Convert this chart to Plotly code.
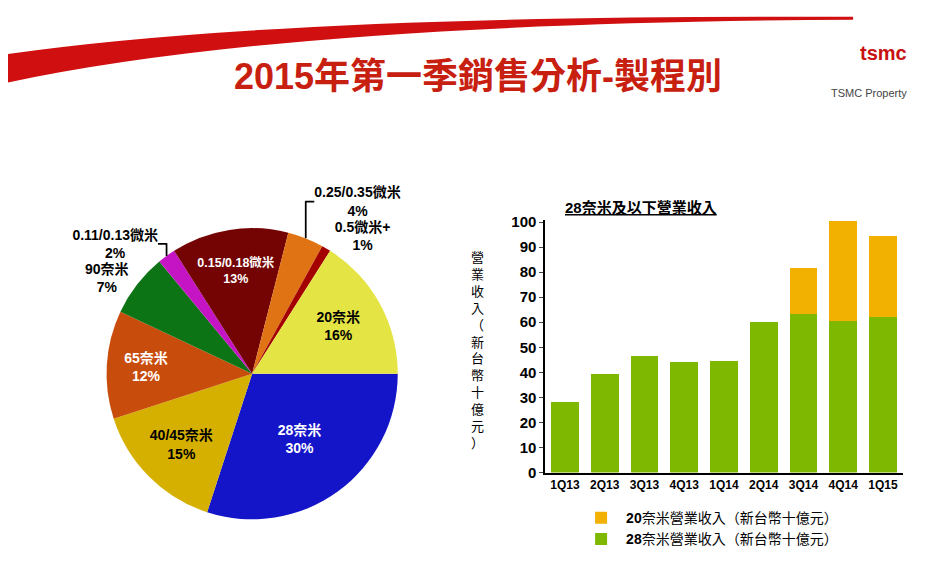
import plotly.graph_objects as go

# pie: process-node revenue share, clockwise from 3 o'clock
pie_labels = ["28奈米", "40/45奈米", "65奈米", "90奈米", "0.11/0.13微米",
              "0.15/0.18微米", "0.25/0.35微米", "0.5微米+", "20奈米"]
pie_values = [30, 15, 12, 7, 2, 13, 4, 1, 16]
pie_colors = ["#1414c8", "#d6b000", "#c84c0c", "#0c7414", "#c414c4",
              "#740404", "#e07414", "#a40000", "#e4e444"]
pie_textcolor = ["white", "black", "white", "black", "black",
                 "white", "black", "black", "black"]
pie_pos = ["inside", "inside", "inside", "outside", "outside",
           "inside", "outside", "outside", "inside"]

# bars: 28nm and below revenue (NT$ billions)
quarters = ["1Q13", "2Q13", "3Q13", "4Q13", "1Q14", "2Q14", "3Q14", "4Q14", "1Q15"]
rev_28 = [28, 39.3, 46.5, 44, 44.5, 60, 63.2, 60.5, 62]
rev_20 = [0, 0, 0, 0, 0, 0, 18.3, 40, 32.5]

FONT = "Liberation Sans, Noto Sans CJK TC, sans-serif"

fig = go.Figure()

fig.add_trace(go.Pie(
    labels=pie_labels, values=pie_values, sort=False, direction="clockwise",
    rotation=90, marker=dict(colors=pie_colors, line=dict(width=0)),
    texttemplate="<b>%{label}<br>%{value}%</b>", textposition=pie_pos,
    insidetextfont=dict(color=pie_textcolor, size=14),
    outsidetextfont=dict(color="black", size=14),
    insidetextorientation="horizontal",
    domain=dict(x=[0.1, 0.42], y=[0.115, 0.625]), showlegend=False,
    hoverinfo="label+percent",
))

fig.add_trace(go.Bar(
    x=quarters, y=rev_28, name="<b>28</b>奈米營業收入（新台幣十億元）",
    marker=dict(color="#7fb800", line=dict(width=0)), width=0.7,
    xaxis="x", yaxis="y",
))
fig.add_trace(go.Bar(
    x=quarters, y=rev_20, name="<b>20</b>奈米營業收入（新台幣十億元）",
    marker=dict(color="#f2b000", line=dict(width=0)), width=0.7,
    xaxis="x", yaxis="y",
))

fig.update_layout(
    width=939, height=585, margin=dict(l=0, r=0, t=0, b=0),
    paper_bgcolor="white", plot_bgcolor="white",
    font=dict(family=FONT, color="black"),
    barmode="stack", bargap=0.3,
    xaxis=dict(domain=[0.572, 0.953], showline=True, linecolor="black",
               linewidth=1.5, ticks="", tickfont=dict(size=12, color="black"),
               tickprefix="<b>", ticksuffix="</b>"),
    yaxis=dict(domain=[0.197, 0.64], range=[0, 101], dtick=10,
               showline=True, linecolor="black", linewidth=1.5, ticks="outside",
               ticklen=4, showgrid=False, zeroline=False,
               tickfont=dict(size=15, color="black"),
               tickprefix="<b>", ticksuffix="</b>"),
    legend=dict(x=0.605, y=0.145, xanchor="left", yanchor="top",
                traceorder="reversed", font=dict(size=14),
                itemwidth=40, tracegroupgap=6),
    shapes=[
        dict(type="path", xref="paper", yref="paper",
             path="M 0 0.93 Q 0.3 1.0 0.9 0.995 L 0.9 0.99 Q 0.3 0.985 0 0.88 Z",
             fillcolor="#d01010", line=dict(width=0)),
    ],
    annotations=[
        dict(text="<b>2015年第一季銷售分析-製程別</b>", x=0.5, y=0.89,
             xref="paper", yref="paper", showarrow=False, yanchor="middle",
             font=dict(size=36, color="#c82010")),
        dict(text="<b><u>28奈米及以下營業收入</u></b>", x=0.757, y=0.68,
             xref="paper", yref="paper", showarrow=False, font=dict(size=15)),
        dict(text="<br>".join("營業收入（新台幣十億元）"), x=0.5, y=0.41,
             xref="paper", yref="paper", showarrow=False,
             font=dict(size=13), align="center"),
        dict(text="<b>tsmc</b>", x=0.96, y=0.955, xref="paper", yref="paper",
             showarrow=False, font=dict(size=20, color="#c81010")),
        dict(text="TSMC Property", x=0.96, y=0.875, xref="paper", yref="paper",
             showarrow=False, font=dict(size=11, color="#444")),
    ],
)

fig.write_html("out.html")
